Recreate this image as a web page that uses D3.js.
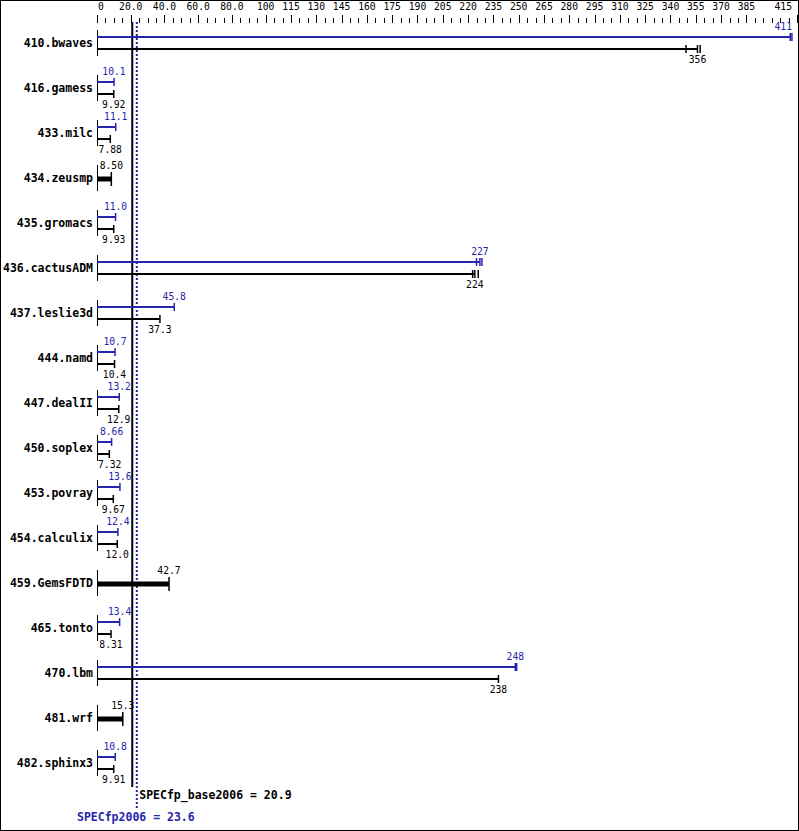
<!DOCTYPE html>
<html>
<head>
<meta charset="utf-8">
<script src="https://cdn.jsdelivr.net/npm/d3@7"></script>
<style>
  html, body { margin: 0; padding: 0; background: #fff; }
  svg { display: block; }
</style>
</head>
<body>
<script>
// ---------------- DATA ----------------
const benchmarks = ["410.bwaves","416.gamess","433.milc","434.zeusmp","435.gromacs","436.cactusADM",
  "437.leslie3d","444.namd","447.dealII","450.soplex","453.povray","454.calculix","459.GemsFDTD",
  "465.tonto","470.lbm","481.wrf","482.sphinx3"];
const peakValues = [411, 10.1, 11.1, null, 11.0, 227, 45.8, 10.7, 13.2, 8.66, 13.6, 12.4, null, 13.4, 248, null, 10.8];
const baseValues = [356, 9.92, 7.88, 8.50, 9.93, 224, 37.3, 10.4, 12.9, 7.32, 9.67, 12.0, 42.7, 8.31, 238, 15.3, 9.91];
// individual run markers (where visibly distinct from the median)
const peakRuns = [[411, 412], null, null, null, null, [225, 227, 228.2], null, null, null, null, null, null, null, null, [248, 248.8], null, null];
const baseRuns = [[349.2, 356, 357.6], null, null, null, null, [222.7, 224, 226], null, null, null, null, null, null, null, null, null, null];
const tickLabelValues = [0, 20, 40, 60, 80, 100, 115, 130, 145, 160, 175, 190, 205, 220, 235, 250, 265, 280, 295, 310, 325, 340, 355, 370, 385, 415];
const tickLabels = ["0","20.0","40.0","60.0","80.0","100","115","130","145","160","175","190","205","220","235","250","265","280","295","310","325","340","355","370","385","415"];
const axisMax = 415;
const specBase = 20.9;
const specPeak = 23.6;
const specBaseLabel = "SPECfp_base2006 = 20.9";
const specPeakLabel = "SPECfp2006 = 23.6";

// ---------------- LAYOUT ----------------
const W = 799, H = 831;
const BLUE = "#2626ac";
const MONO = "'DejaVu Sans Mono', 'Liberation Mono', monospace";

const svg = d3.select("body").append("svg").attr("width", W).attr("height", H);
svg.append("rect").attr("x", 0.5).attr("y", 0.5).attr("width", W - 1).attr("height", H - 1)
  .attr("fill", "#fff").attr("stroke", "#000").attr("stroke-width", 1);

const x = d3.scaleLinear().domain([0, axisMax]).range([97, 797]);
const y = d3.scalePoint().domain(benchmarks).range([43, 763]);
const fmt = d3.format(".3r");

// clamp a middle-anchored text horizontally
function clampText(sel, minLeft, maxRight) {
  sel.each(function() {
    const t = d3.select(this);
    const w = this.getComputedTextLength();
    let cx = +t.attr("x");
    if (cx - w / 2 < minLeft) cx = minLeft + w / 2;
    if (cx + w / 2 > maxRight) cx = maxRight - w / 2;
    t.attr("x", cx);
  });
}

// ---------------- AXIS ----------------
const axisG = svg.append("g");
const minorTicks = d3.range(0, axisMax + 0.001, 5).filter(v => !tickLabelValues.includes(v));
axisG.selectAll("line.minor").data(minorTicks).join("line")
  .attr("x1", d => Math.round(x(d)) + 0.5).attr("x2", d => Math.round(x(d)) + 0.5)
  .attr("y1", 18).attr("y2", 23).attr("stroke", "#000").attr("stroke-width", 1);
axisG.selectAll("line.major").data(tickLabelValues).join("line")
  .attr("x1", d => Math.round(x(d)) + 0.5).attr("x2", d => Math.round(x(d)) + 0.5)
  .attr("y1", 15).attr("y2", 23).attr("stroke", "#000").attr("stroke-width", 1);
axisG.selectAll("text").data(tickLabelValues).join("text")
  .attr("x", d => x(d)).attr("y", 10)
  .attr("text-anchor", "middle")
  .attr("font-family", MONO).attr("font-size", "9.7px").attr("fill", "#000")
  .text((d, i) => tickLabels[i])
  .call(clampText, 98, 792);

// ---------------- REFERENCE LINES ----------------
svg.append("line")
  .attr("x1", x(specBase)).attr("x2", x(specBase)).attr("y1", 22).attr("y2", 787)
  .attr("stroke", "#000").attr("stroke-width", 2);
svg.append("line")
  .attr("x1", x(specPeak)).attr("x2", x(specPeak)).attr("y1", 22).attr("y2", 808)
  .attr("stroke", BLUE).attr("stroke-width", 2).attr("stroke-dasharray", "2,2");
svg.append("text").attr("x", x(specBase) + 7).attr("y", 795).attr("dy", "0.35em")
  .attr("font-family", MONO).attr("font-weight", "bold").attr("font-size", "11.5px").attr("fill", "#000")
  .text(specBaseLabel);
svg.append("text").attr("x", 77).attr("y", 817).attr("dy", "0.35em")
  .attr("font-family", MONO).attr("font-weight", "bold").attr("font-size", "11.5px").attr("fill", BLUE)
  .text(specPeakLabel);

// ---------------- ROWS ----------------
const rows = benchmarks.map((b, i) => ({
  name: b, peak: peakValues[i], base: baseValues[i],
  pRuns: peakRuns[i], bRuns: baseRuns[i]
}));

const rowG = svg.append("g").selectAll("g").data(rows).join("g");

rowG.append("text")
  .attr("x", 93).attr("y", d => y(d.name)).attr("dy", "0.35em")
  .attr("text-anchor", "end")
  .attr("font-family", MONO).attr("font-weight", "bold").attr("font-size", "11.5px").attr("fill", "#000")
  .text(d => d.name);

rowG.each(function(d) {
  const g = d3.select(this);
  const c = y(d.name);
  const x0 = x(0);
  if (d.peak != null) {
    const yp = c - 6, yb = c + 6;
    // bracket
    g.append("line").attr("x1", x0 + 0.5).attr("x2", x0 + 0.5).attr("y1", yp - 7).attr("y2", yb + 7)
      .attr("stroke", "#000").attr("stroke-width", 1);
    // peak bar
    g.append("line").attr("x1", x0).attr("x2", x(d.peak)).attr("y1", yp).attr("y2", yp)
      .attr("stroke", BLUE).attr("stroke-width", 2);
    const pr = d.pRuns || [d.peak];
    pr.forEach(v => g.append("line").attr("x1", x(v)).attr("x2", x(v)).attr("y1", yp - 4).attr("y2", yp + 4)
      .attr("stroke", BLUE).attr("stroke-width", 1.5));
    g.append("text").attr("x", x(d.peak)).attr("y", yp - 10).attr("dy", "0.35em")
      .attr("text-anchor", "middle").attr("font-family", MONO).attr("font-size", "9.7px").attr("fill", BLUE)
      .text(fmt(d.peak)).call(clampText, 98, 792);
    // base bar
    g.append("line").attr("x1", x0).attr("x2", x(d.base)).attr("y1", yb).attr("y2", yb)
      .attr("stroke", "#000").attr("stroke-width", 2);
    const br = d.bRuns || [d.base];
    br.forEach(v => g.append("line").attr("x1", x(v)).attr("x2", x(v)).attr("y1", yb - 4).attr("y2", yb + 4)
      .attr("stroke", "#000").attr("stroke-width", 1.5));
    g.append("text").attr("x", x(d.base)).attr("y", yb + 11).attr("dy", "0.35em")
      .attr("text-anchor", "middle").attr("font-family", MONO).attr("font-size", "9.7px").attr("fill", "#000")
      .text(fmt(d.base)).call(clampText, 98, 792);
  } else {
    const yb = c + 1;
    g.append("line").attr("x1", x0 + 0.5).attr("x2", x0 + 0.5).attr("y1", c - 13).attr("y2", c + 13)
      .attr("stroke", "#000").attr("stroke-width", 1);
    g.append("line").attr("x1", x0).attr("x2", x(d.base)).attr("y1", yb).attr("y2", yb)
      .attr("stroke", "#000").attr("stroke-width", 5);
    g.append("line").attr("x1", x(d.base)).attr("x2", x(d.base)).attr("y1", c - 6).attr("y2", c + 8)
      .attr("stroke", "#000").attr("stroke-width", 1.5);
    g.append("text").attr("x", x(d.base)).attr("y", c - 12).attr("dy", "0.35em")
      .attr("text-anchor", "middle").attr("font-family", MONO).attr("font-size", "9.7px").attr("fill", "#000")
      .text(fmt(d.base)).call(clampText, 98, 792);
  }
});
</script>
</body>
</html>
